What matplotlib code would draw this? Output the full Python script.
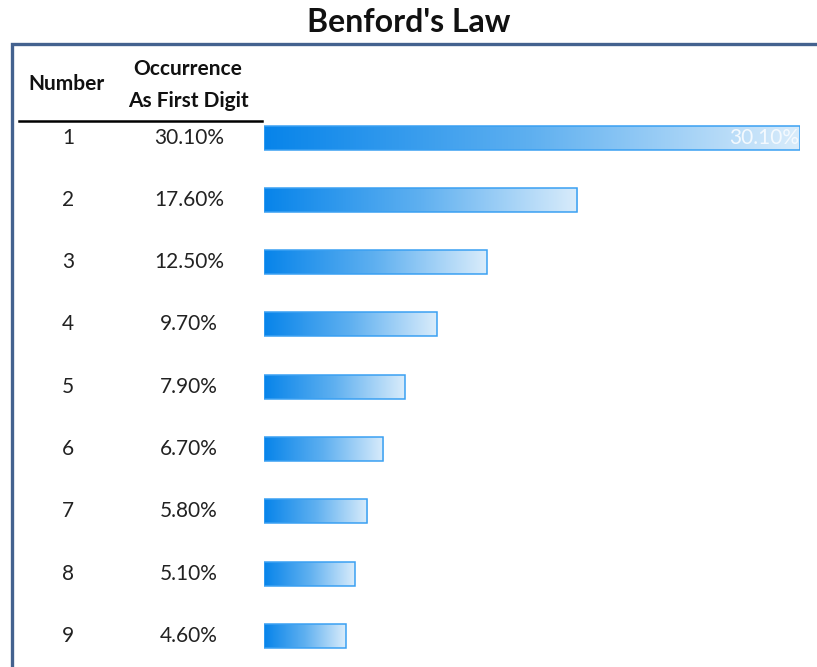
import numpy as np
import matplotlib.pyplot as plt
import matplotlib.transforms as mtransforms
from matplotlib.colors import LinearSegmentedColormap
from matplotlib.patches import Rectangle

plt.rcParams['font.family'] = ['Lato', 'DejaVu Sans']

digits = ['1', '2', '3', '4', '5', '6', '7', '8', '9']
occurrence = [30.10, 17.60, 12.50, 9.70, 7.90, 6.70, 5.80, 5.10, 4.60]
pct_labels = ['30.10%', '17.60%', '12.50%', '9.70%', '7.90%',
              '6.70%', '5.80%', '5.10%', '4.60%']

W, H = 817, 667
fig = plt.figure(figsize=(W / 100, H / 100), dpi=100)

def fx(px):
    return px / W

def fy(py):
    return 1 - py / H

# bar area: starts at x=264 px, 30.1% reaches x=800 px
ax = fig.add_axes([fx(264), 0, fx(800) - fx(264), fy(106.5)])
ax.set_xlim(0, max(occurrence))
ax.set_ylim(len(digits) - 0.5, -0.5)
ax.axis('off')

grad = LinearSegmentedColormap.from_list('blues', ['#0784ea', '#5fb0f0', '#d9ecfb'])
gimg = np.linspace(0, 1, 256).reshape(1, -1)
bh = 0.385
for i, v in enumerate(occurrence):
    ax.imshow(gimg, cmap=grad, aspect='auto', interpolation='bilinear',
              extent=(0, v, i + bh / 2, i - bh / 2), zorder=2)
    ax.add_patch(Rectangle((0, i - bh / 2), v, bh, fill=False,
                           edgecolor='#3aa0f2', linewidth=1.1, zorder=3))
ax.set_xlim(0, max(occurrence))
ax.set_ylim(len(digits) - 0.5, -0.5)

# value label on the longest bar
ax.text(occurrence[0] - 0.03, 0, pct_labels[0], ha='right', va='center',
        color='#f4f9fe', fontsize=15, zorder=4)

# table columns to the left of the bars
tr = mtransforms.blended_transform_factory(fig.transFigure, ax.transData)
for i, (d, p) in enumerate(zip(digits, pct_labels)):
    fig.text(fx(68), i, d, transform=tr, ha='center', va='center',
             fontsize=15, color='#222222')
    fig.text(fx(189), i, p, transform=tr, ha='center', va='center',
             fontsize=15, color='#222222')

fig.text(fx(66), fy(84), 'Number', ha='center', va='center',
         fontsize=15, fontweight='bold', color='#111111')
fig.text(fx(188), fy(69), 'Occurrence', ha='center', va='center',
         fontsize=15, fontweight='bold', color='#111111')
fig.text(fx(188), fy(101), 'As First Digit', ha='center', va='center',
         fontsize=15, fontweight='bold', color='#111111')
fig.add_artist(plt.Line2D([fx(19), fx(262)], [fy(120.5), fy(120.5)],
                          color='black', linewidth=1.8))

# outer frame
fig.add_artist(Rectangle((fx(12), fy(700)), fx(830) - fx(12), fy(44) - fy(700),
                         transform=fig.transFigure, fill=False,
                         edgecolor='#44628f', linewidth=2.4, clip_on=False))

fig.text(0.5, fy(22), "Benford's Law", ha='center', va='center',
         fontsize=23, fontweight='bold', color='#111111')

fig.savefig('out.png', dpi=100, facecolor='white')
